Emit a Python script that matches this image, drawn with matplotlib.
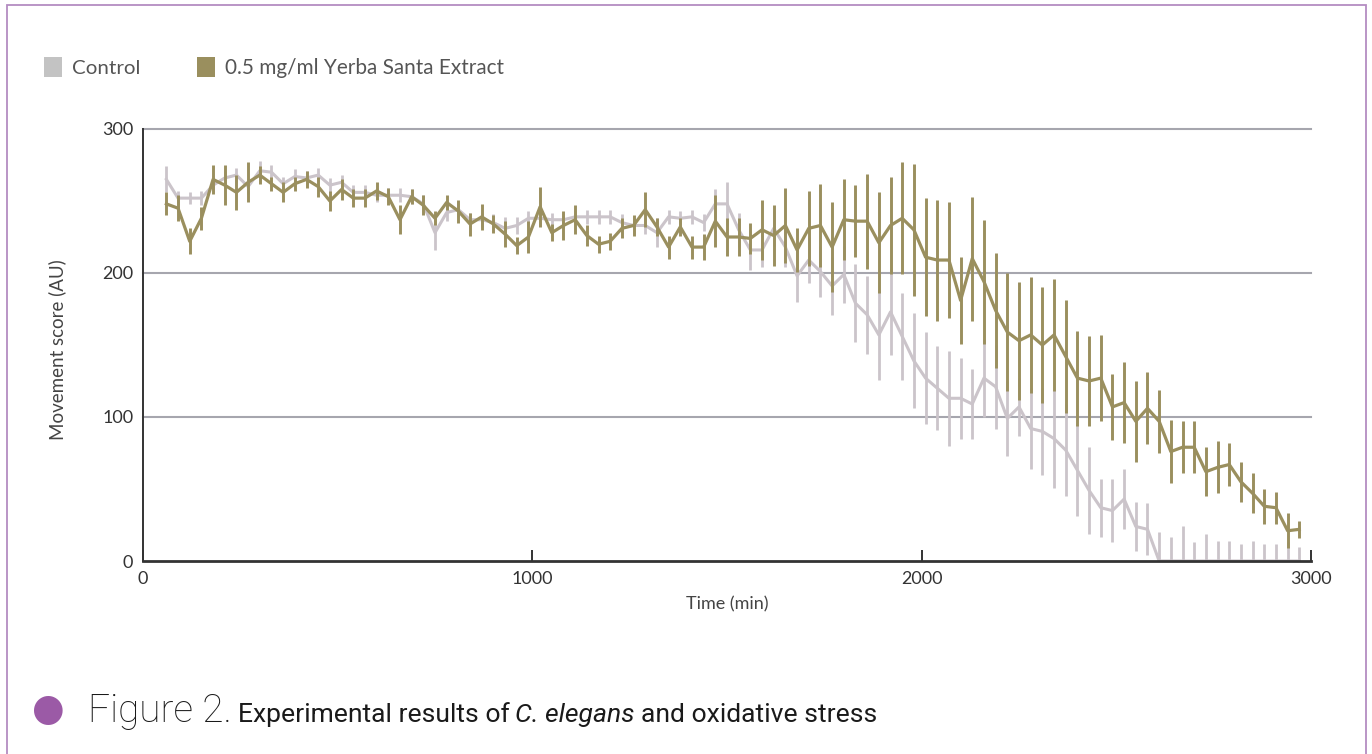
import matplotlib
matplotlib.use("Agg")
import matplotlib.pyplot as plt
from matplotlib import font_manager as fm
from matplotlib.patches import Rectangle
import numpy as np

# ---------------- data ----------------
time_min = list(range(60, 2971, 30))  # 98 time points

control = [265, 252, 252, 252, 261, 266, 268, 260, 271, 270,
           262, 267, 266, 268, 261, 263, 256, 256, 254, 254,
           254, 253, 248, 228, 242, 244, 237, 237, 235, 231,
           233, 238, 238, 237, 237, 239, 239, 239, 239, 235,
           233, 233, 228, 239, 238, 239, 235, 248, 248, 230,
           216, 216, 231, 218, 198, 209, 201, 191, 199, 179,
           171, 157, 173, 156, 139, 127, 120, 113, 113, 109,
           127, 121, 99, 107, 92, 90, 85, 77, 63, 49,
           37, 35, 43, 24, 22, 0, 0, 0, 0, 0,
           0, 0, 0, 0, 0, 0, 0, 0]
control_err = [9, 5, 4, 5, 5, 5, 5, 5, 7, 5,
               5, 5, 5, 5, 5, 5, 5, 5, 5, 5,
               5, 5, 6, 12, 6, 5, 5, 5, 6, 8,
               6, 5, 5, 5, 5, 5, 5, 5, 5, 6,
               6, 6, 10, 5, 5, 5, 6, 10, 15, 12,
               14, 12, 12, 14, 18, 16, 18, 20, 20, 27,
               27, 31, 30, 30, 33, 32, 29, 33, 28, 24,
               27, 29, 26, 20, 28, 30, 34, 32, 32, 30,
               20, 22, 21, 17, 18, 20, 17, 24, 13, 19,
               14, 14, 12, 14, 12, 12, 13, 10]

extract = [248, 245, 222, 238, 265, 261, 256, 263, 268, 262,
           256, 262, 265, 260, 250, 258, 252, 252, 257, 253,
           237, 253, 247, 238, 249, 243, 234, 239, 234, 227,
           219, 225, 246, 228, 233, 237, 226, 220, 222, 231,
           233, 244, 232, 218, 232, 218, 218, 236, 225, 225,
           224, 230, 226, 233, 216, 231, 233, 218, 237, 236,
           236, 221, 233, 238, 230, 211, 209, 209, 181, 210,
           194, 174, 159, 153, 157, 150, 157, 142, 127, 125,
           127, 107, 110, 97, 106, 97, 76, 79, 79, 62,
           65, 67, 55, 47, 38, 37, 21, 22]
extract_err = [8, 9, 9, 8, 10, 14, 12, 14, 6, 5,
               7, 5, 6, 7, 7, 7, 6, 6, 6, 6,
               10, 5, 7, 5, 5, 8, 8, 9, 6, 9,
               6, 11, 14, 6, 10, 10, 7, 6, 6, 7,
               7, 12, 6, 8, 6, 8, 9, 18, 13, 13,
               11, 21, 21, 26, 15, 26, 29, 31, 28, 25,
               33, 35, 34, 39, 46, 41, 42, 40, 30, 43,
               43, 40, 41, 41, 40, 40, 39, 39, 33, 31,
               30, 23, 28, 28, 25, 22, 22, 18, 18, 17,
               18, 15, 14, 14, 12, 11, 12, 6]

series_labels = ["Control", "0.5 mg/ml Yerba Santa Extract"]
x_ticks = [0, 1000, 2000, 3000]
y_ticks = [0, 100, 200, 300]
x_label = "Time (min)"
y_label = "Movement score (AU)"

# ---------------- style ----------------
GREY = "#cbc4ca"
GREY_LEG = "#c3c3c3"
GREEN = "#9a8f5e"
GRID = "#a6a6ae"
DARK = "#333333"
PURPLE = "#9b5aa6"
BORDER = "#b48cc2"

names = {f.name for f in fm.fontManager.ttflist}
def pick(*cands):
    for c in cands:
        if c in names:
            return c
    return "DejaVu Sans"

MAIN = pick("Lato", "Open Sans", "Noto Sans", "DejaVu Sans")
CAP = pick("Roboto", "Lato", "DejaVu Sans")
plt.rcParams["font.family"] = [MAIN, "DejaVu Sans"]

W, H = 1372, 754
fig = plt.figure(figsize=(W / 100, H / 100), dpi=100)
fig.patch.set_facecolor("white")

def fx(px):
    return px / W

def fy(py):
    return 1 - py / H

# border frame
fig.patches.append(Rectangle((fx(7), fy(800)), fx(1366) - fx(7), fy(5) - fy(800),
                             transform=fig.transFigure, fill=False,
                             edgecolor=BORDER, lw=1.3))

ax = fig.add_axes([fx(143), fy(561), fx(1311) - fx(143), fy(129) - fy(561)])

for yv in y_ticks[1:]:
    ax.axhline(yv, color=GRID, lw=1.5, zorder=1, clip_on=False)

ax.errorbar(time_min, control, yerr=control_err, color=GREY, ecolor=GREY,
            lw=2.2, elinewidth=2.0, capsize=0, zorder=2)
ax.errorbar(time_min, extract, yerr=extract_err, color=GREEN, ecolor=GREEN,
            lw=2.3, elinewidth=2.1, capsize=0, zorder=3)

ax.set_xlim(0, 3000)
ax.set_ylim(0, 300)
ax.set_xticks(x_ticks)
ax.set_yticks(y_ticks)
ax.set_xticklabels([str(v) for v in x_ticks])
ax.set_yticklabels([str(v) for v in y_ticks])
for s in ["top", "right"]:
    ax.spines[s].set_visible(False)
ax.spines["left"].set_color(DARK)
ax.spines["left"].set_linewidth(1.4)
ax.spines["bottom"].set_color(DARK)
ax.spines["bottom"].set_linewidth(2.0)
ax.spines["bottom"].set_zorder(4)
ax.tick_params(axis="x", direction="in", length=8, width=1.4, color=DARK,
               labelsize=13, labelcolor=DARK, pad=7)
ax.tick_params(axis="y", length=0, labelsize=13, labelcolor=DARK, pad=7)

ax.set_xlabel(x_label, fontsize=13, color="#444444")
ax.xaxis.set_label_coords(0.5, (561 - 604) / 432)
ax.xaxis.label.set_va("center")
ax.set_ylabel(y_label, fontsize=13.5, color="#444444")
ax.yaxis.set_label_coords((57 - 143) / 1168, (561 - 350) / 432)
ax.yaxis.label.set_va("center")

# legend (manual)
fig.patches.append(Rectangle((fx(44), fy(77)), fx(62) - fx(44), fy(57) - fy(77),
                             transform=fig.transFigure, color=GREY_LEG, lw=0))
fig.patches.append(Rectangle((fx(197), fy(77)), fx(215) - fx(197), fy(57) - fy(77),
                             transform=fig.transFigure, color=GREEN, lw=0))

renderer = fig.canvas.get_renderer()

def fit_text(x, y, s, width, size0=14, **kw):
    t = fig.text(fx(x), fy(y), s, fontsize=size0, **kw)
    w = t.get_window_extent(renderer).width
    t.set_fontsize(size0 * width / w)
    return t

fit_text(72, 68, series_labels[0], 68, va="center", ha="left", color="#555555")
fit_text(225, 68, series_labels[1], 280, va="center", ha="left", color="#555555")

# caption
fig.text(fx(48), fy(710), "\u25CF", fontsize=27, color=PURPLE, ha="center",
         va="center", family=["DejaVu Sans"])

fit_text(88, 722, "Figure 2.", 144, size0=28, va="baseline", ha="left",
         color="#1a1a1a", family=[CAP], weight="light")
cap_parts = [("Experimental results of", "normal"), ("C. elegans", "italic"),
             ("and oxidative stress", "normal")]
base = 20
widths = []
for s, st in cap_parts:
    tt = fig.text(0, 0, s, fontsize=base, family=[CAP], style=st, weight="normal")
    widths.append(tt.get_window_extent(renderer).width)
    tt.remove()
space = base * 100 / 72 * 0.25
natural = sum(widths) + space * (len(cap_parts) - 1)
scale = (876 - 238) / natural
size = base * scale
x = 238
for (s, st), w in zip(cap_parts, widths):
    fig.text(fx(x), fy(722), s, fontsize=size, family=[CAP], style=st,
             weight="normal", va="baseline", ha="left", color="#1a1a1a")
    x += w * scale + space * scale

fig.savefig("out.png", dpi=100, facecolor="white")
